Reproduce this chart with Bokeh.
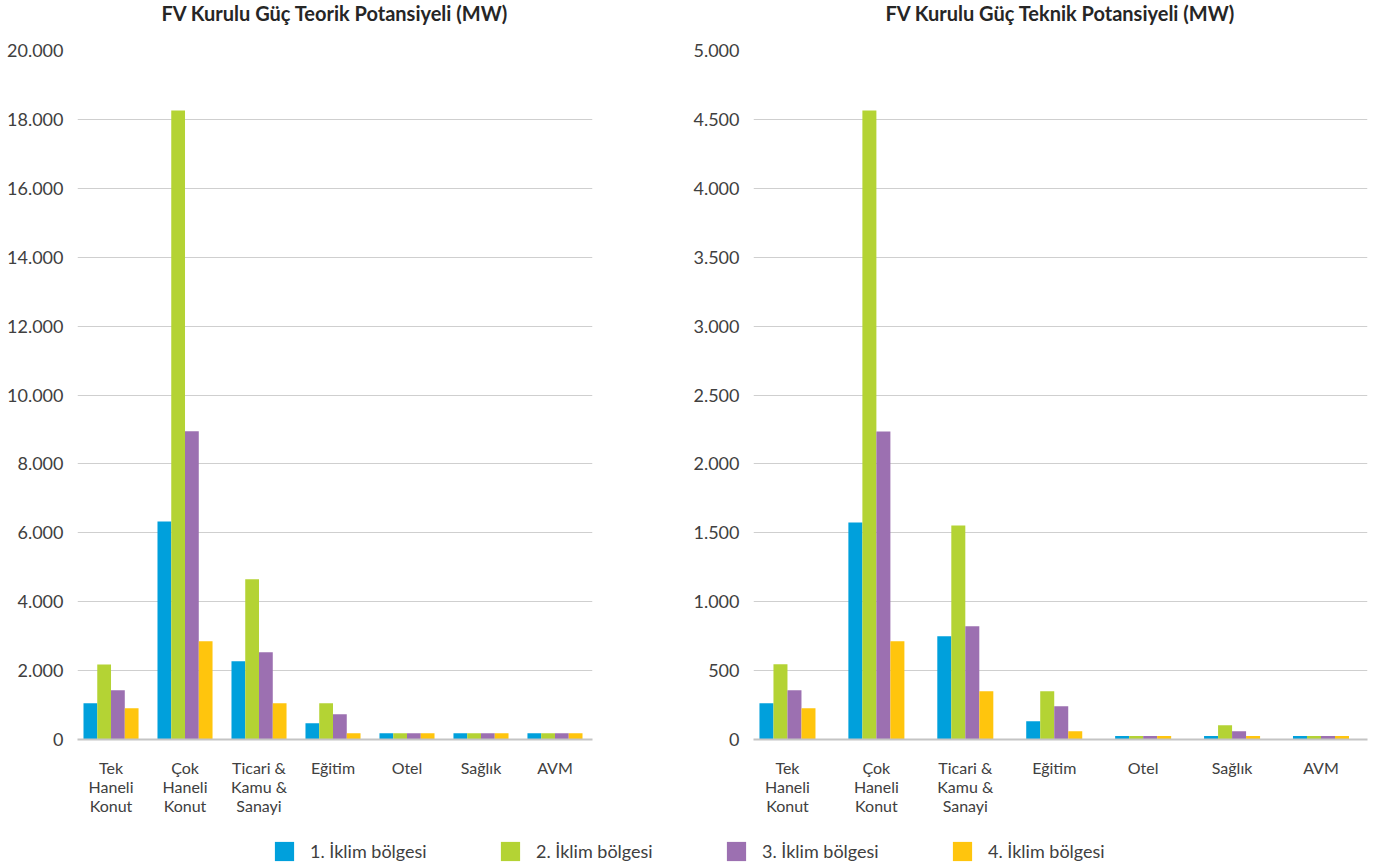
import numpy as np
from bokeh.plotting import figure
from bokeh.layouts import row, column
from bokeh.models import Range1d, FixedTicker, Legend, LegendItem
from bokeh.embed import file_html
from bokeh.resources import INLINE

# Building categories (x axis)
categories = ["Tek\nHaneli\nKonut", "Çok\nHaneli\nKonut", "Ticari &\nKamu &\nSanayi",
              "Eğitim", "Otel", "Sağlık", "AVM"]

series_names = ["1. İklim bölgesi", "2. İklim bölgesi", "3. İklim bölgesi", "4. İklim bölgesi"]
series_colors = ["#00A0DC", "#B4D334", "#9C70B1", "#FFC50D"]

# Theoretical installed PV capacity (MW) per climate zone
teorik_1 = [1050, 6330, 2270, 470, 180, 180, 180]
teorik_2 = [2180, 18260, 4650, 1050, 180, 180, 180]
teorik_3 = [1430, 8950, 2530, 730, 180, 180, 180]
teorik_4 = [910, 2850, 1050, 180, 180, 180, 180]

# Technical installed PV capacity (MW) per climate zone
teknik_1 = [263, 1575, 750, 133, 26, 26, 26]
teknik_2 = [546, 4565, 1553, 350, 26, 104, 26]
teknik_3 = [358, 2235, 822, 242, 26, 60, 26]
teknik_4 = [227, 713, 350, 60, 26, 26, 26]

teorik_ticks = list(range(0, 20001, 2000))
teknik_ticks = list(range(0, 5001, 500))

FONT = "Lato"
TEXT_COLOR = "#404040"


def tr_number(v):
    return f"{v:,}".replace(",", ".")


def make_chart(title, series, y_max, y_ticks, x_start, x_end, bar_w,
               width, border_left, border_right):
    # a blank second line keeps the title close to the top edge
    p = figure(width=width, height=830, output_backend="svg", toolbar_location=None,
               x_range=Range1d(x_start, x_end), y_range=Range1d(0, y_max),
               min_border_left=border_left, min_border_right=border_right,
               min_border_top=50, min_border_bottom=91, title=title + "\n\u00a0")
    p.outline_line_color = None
    p.background_fill_color = "white"
    p.border_fill_color = "white"

    p.title.align = "center"
    p.title.vertical_align = "top"
    p.title.text_font = FONT
    p.title.text_font_style = "bold"
    p.title.text_font_size = "20px"
    p.title.text_line_height = 1.02
    p.title.text_color = "#262626"
    p.title.standoff = 0

    idx = np.arange(len(categories))
    for j, (vals, color) in enumerate(zip(series, series_colors)):
        p.vbar(x=idx + (j - 1.5) * bar_w, top=vals, width=bar_w,
               fill_color=color, line_color=None)

    p.xgrid.visible = False
    p.ygrid.ticker = FixedTicker(ticks=y_ticks)
    p.ygrid.grid_line_color = "#cfcfcf"
    p.ygrid.grid_line_width = 1

    ya = p.yaxis[0]
    ya.ticker = FixedTicker(ticks=y_ticks)
    ya.major_label_overrides = {t: tr_number(t) for t in y_ticks}
    ya.axis_line_color = None
    ya.major_tick_line_color = None
    ya.minor_tick_line_color = None
    ya.major_tick_out = 0
    ya.major_tick_in = 0
    ya.major_label_standoff = 14
    ya.major_label_text_font = FONT
    ya.major_label_text_font_size = "18px"
    ya.major_label_text_color = TEXT_COLOR

    xa = p.xaxis[0]
    xa.ticker = FixedTicker(ticks=list(range(len(categories))))
    xa.major_label_overrides = {i: c for i, c in enumerate(categories)}
    xa.axis_line_color = "#c4c4c4"
    xa.axis_line_width = 2
    xa.major_tick_line_color = None
    xa.minor_tick_line_color = None
    xa.major_tick_out = 0
    xa.major_tick_in = 0
    xa.major_label_standoff = 18
    xa.major_label_text_font = FONT
    xa.major_label_text_font_size = "16px"
    xa.major_label_text_color = TEXT_COLOR
    xa.major_label_text_line_height = 1.0
    return p


left = make_chart("FV Kurulu Güç Teorik Potansiyeli (MW)",
                  [teorik_1, teorik_2, teorik_3, teorik_4], 20000, teorik_ticks,
                  -0.453, 6.507, 0.186, 680, 77, 88)
right = make_chart("FV Kurulu Güç Teknik Potansiyeli (MW)",
                   [teknik_1, teknik_2, teknik_3, teknik_4], 5000, teknik_ticks,
                   -0.382, 6.523, 0.1575, 693, 73, 6)

# Shared legend strip under both charts; each entry uses a zero-height swatch bar
leg = figure(width=1373, height=35, output_backend="svg", toolbar_location=None,
             x_range=Range1d(0, 1), y_range=Range1d(0, 1),
             x_axis_type=None, y_axis_type=None, min_border=0)
leg.outline_line_color = None
leg.xgrid.visible = False
leg.ygrid.visible = False
items = []
for name, color in zip(series_names, series_colors):
    r = leg.vbar(x=[0], top=[0], width=0.01, fill_color=color, line_color=None)
    items.append(LegendItem(label=name, renderers=[r]))
legend = Legend(items=items, orientation="horizontal", location=(272, 2),
                glyph_width=24, glyph_height=24, label_standoff=14, spacing=60,
                padding=0, margin=0, border_line_color=None,
                background_fill_alpha=0, label_width=128,
                label_text_font=FONT, label_text_font_size="18px",
                label_text_color=TEXT_COLOR)
leg.add_layout(legend)

layout = column(row(left, right, spacing=0), leg, spacing=0)

open("out.html", "w").write(file_html(layout, INLINE))
